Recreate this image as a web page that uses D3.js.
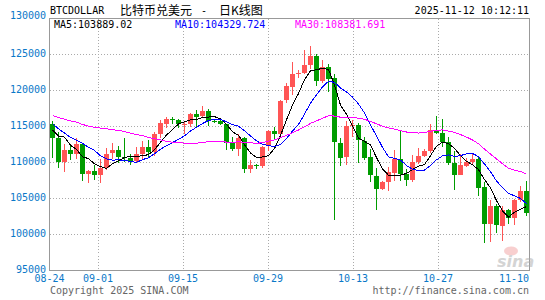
<!DOCTYPE html>
<html>
<head>
<meta charset="utf-8">
<script src="https://cdn.jsdelivr.net/npm/d3@7"></script>
<style>
body { margin: 0; background: #fff; }
text { font-family: "DejaVu Sans Mono", monospace; font-size: 10px; }
</style>
</head>
<body>
<svg id="chart" width="545" height="300"></svg>
<script>
// daily candles, 2025-08-24 .. 2025-11-11
const firstDay = "2025-08-24";
const openP  = [115370,113460,110100,111800,111200,112550,108350,108800,108250,109250,
                111250,111700,110700,110600,110150,111150,112100,111450,113950,115450,
                116100,115950,115350,115400,116800,116450,117150,115750,115700,115300,
                112700,111850,113400,109050,109650,109600,112200,114350,113950,118600,
                120600,122350,122450,123500,124800,121350,123300,121700,112750,110700,
                115050,115200,113050,110700,108150,106350,107300,108650,110550,108400,
                107500,110050,110950,111650,114550,114100,112900,109950,108250,109600,
                110100,110550,106550,101350,103900,101200,103400,102250,104750,106000];
const highP  = [115700,114200,112600,112600,113450,112700,108900,109600,110550,112000,
                112700,112300,113400,111200,112100,113000,113150,114300,115900,116300,
                116350,116100,115800,116850,117300,117900,117500,116100,115900,115400,
                113500,114000,113500,110300,109800,112300,114450,115000,118650,121000,
                123950,122900,125600,126250,125100,124300,123750,122300,113400,115700,
                115900,115450,113600,111900,109200,107500,109400,111700,114450,109100,
                111100,112000,111900,115400,116400,116100,113600,111600,111200,110600,
                111200,110700,107300,104800,104200,104000,103500,105000,106700,107500];
const lowP   = [110650,109300,108650,110400,110500,107500,107200,107600,107100,108900,
                110550,109900,110100,109700,110000,110550,110600,110900,113400,114800,
                115300,114800,113900,114900,115000,116200,115100,115450,115150,111700,
                111650,110950,108600,108600,109100,109300,111600,113100,113800,118300,
                119350,121700,122300,123000,120600,121100,119800,102000,109500,109600,
                113550,109900,110300,107300,103400,106200,106100,107450,107450,106700,
                107300,109800,110800,111300,113950,112200,109700,106150,108200,109400,
                109800,105300,98850,98900,100200,99100,101500,101300,104500,102600];
const closeP = [113460,110100,111800,111200,112550,108350,108800,108250,109250,111250,
                111700,110700,110600,110150,111150,112100,111450,113950,115450,116100,
                115950,115350,115400,116800,116450,117150,115750,115700,115300,112700,
                111850,113400,109050,109600,109600,112200,114350,113950,118600,120600,
                122350,122450,123500,124800,121350,123300,121700,112750,110700,115050,
                115200,113050,110700,108150,106350,107300,108650,110550,108400,107500,
                110050,110950,111650,114550,114100,112900,109950,108250,109600,110100,
                110550,106550,101350,103900,101200,103400,102250,104750,106000,103000];
// closes 2025-07-26 .. 2025-08-23, only used to start the moving averages
const priorClose = [117600,119450,118000,117900,117800,115750,113300,112550,114200,115050,
                    114100,115000,117500,116700,116500,119300,118700,120200,123300,118400,
                    117400,117500,117450,116250,112900,114300,112450,116900,115400];

const yTicks = [95000,100000,105000,110000,115000,120000,125000,130000];
const xTickDays = ["2025-08-24","2025-09-01","2025-09-15","2025-09-29","2025-10-13","2025-10-27","2025-11-10"];
const maPeriods = [5,10,30];
const maLabels = ["MA5:103889.02","MA10:104329.724","MA30:108381.691"];
const maColors = ["#000000","#0000ff","#ff00ff"];
const upColor = "#ff5555", downColor = "#009c00";

const parse = d3.utcParse("%Y-%m-%d");
const fmtTick = d3.utcFormat("%m-%d");
const days = d3.utcDay.range(parse(firstDay), d3.utcDay.offset(parse(firstDay), closeP.length));
const bars = days.map((d, i) => ({date: d, o: openP[i], h: highP[i], l: lowP[i], c: closeP[i]}));

const svg = d3.select("#chart");
const padL = 50, padR = 530, padT = 18.5, padB = 270.5;

const x = d3.scaleBand().domain(d3.range(bars.length)).range([padL, padR]);
const xt = d3.scaleUtc().domain([days[0], days[days.length - 1]]).range([padL, padR - 0.5]);
const y = d3.scaleLinear().domain([95000, 130000]).range([padB, padT]);

// grid
const grid = svg.append("g").attr("shape-rendering", "crispEdges")
  .attr("stroke", "#aaa").attr("stroke-dasharray", "1,2");
grid.selectAll(".hy").data(yTicks.slice(1, -1)).enter().append("line")
  .attr("x1", padL).attr("x2", padR - 1)
  .attr("y1", d => y(d)).attr("y2", d => y(d));
grid.selectAll(".vx").data(xTickDays.slice(1, -1)).enter().append("line")
  .attr("x1", d => Math.floor(xt(parse(d))) + 0.5).attr("x2", d => Math.floor(xt(parse(d))) + 0.5)
  .attr("y1", padT).attr("y2", padB);

// frame
svg.append("rect").attr("x", padL - 0.5).attr("y", padT).attr("width", padR - padL).attr("height", padB - padT)
  .attr("fill", "none").attr("stroke", "#999").attr("shape-rendering", "crispEdges");

// watermark
const wm = svg.append("g").attr("opacity", 0.5);
wm.append("ellipse").attr("cx", 511).attr("cy", 251).attr("rx", 7).attr("ry", 4.5).attr("fill", "#f2a0a0");
wm.append("text").attr("x", 497).attr("y", 267).style("font-family", "DejaVu Sans").style("font-size", "16px")
  .style("font-weight", "bold").style("font-style", "italic").attr("fill", "#aaa").text("sina");

// candles
const cg = svg.append("g").attr("shape-rendering", "crispEdges");
const candle = cg.selectAll("g").data(bars).enter().append("g")
  .attr("fill", d => d.c >= d.o ? upColor : downColor)
  .attr("stroke", d => d.c >= d.o ? upColor : downColor);
candle.append("line")
  .attr("x1", (d, i) => x(i) + 2.5).attr("x2", (d, i) => x(i) + 2.5)
  .attr("y1", d => y(d.h)).attr("y2", d => y(d.l));
candle.append("rect")
  .attr("stroke", "none")
  .attr("x", (d, i) => x(i)).attr("width", x.bandwidth() - 1)
  .attr("y", d => Math.round(y(Math.max(d.o, d.c))))
  .attr("height", d => Math.max(1, Math.round(Math.abs(y(d.o) - y(d.c)))));

// moving averages
const allClose = priorClose.concat(closeP);
maPeriods.forEach((p, k) => {
  const pts = closeP.map((c, i) => {
    const g = i + priorClose.length;
    return [x(i) + 2.5, y(d3.mean(allClose.slice(g - p + 1, g + 1)))];
  });
  svg.append("path").attr("d", d3.line()(pts)).attr("fill", "none")
    .attr("stroke", maColors[k]).attr("stroke-width", 1).attr("shape-rendering", "crispEdges");
});

// y axis labels
svg.selectAll(".yl").data(yTicks).enter().append("text")
  .attr("x", 46).attr("y", d => d === 130000 ? 19 : y(d) + 2.5)
  .attr("text-anchor", "end").attr("fill", "#0a78c8").text(d => d);

// x axis labels
svg.selectAll(".xl").data(xTickDays).enter().append("text")
  .attr("x", d => Math.min(xt(parse(d)) - 0.5, 529 - 15)).attr("y", 282)
  .attr("text-anchor", "middle").attr("fill", "#0a78c8").text(d => fmtTick(parse(d)));

// titles
svg.append("text").attr("x", 50).attr("y", 14).attr("fill", "#000").text("BTCDOLLAR");
svg.append("text").attr("x", 120).attr("y", 15).attr("fill", "#000")
  .style("font-family", "'Noto Sans CJK SC'").style("font-size", "12px").text("比特币兑美元");
svg.append("text").attr("x", 201).attr("y", 14).attr("fill", "#000").text("-");
svg.append("text").attr("x", 219).attr("y", 15).attr("fill", "#000")
  .style("font-family", "'Noto Sans CJK SC'").style("font-size", "12px").text("日K线图");
svg.append("text").attr("x", 529).attr("y", 14).attr("text-anchor", "end").attr("fill", "#000")
  .text("2025-11-12 10:12:11");

const legendX = [54, 175, 295];
svg.selectAll(".ma").data(maLabels).enter().append("text")
  .attr("x", (d, i) => legendX[i]).attr("y", 28)
  .attr("fill", (d, i) => maColors[i]).text(d => d);

svg.append("text").attr("x", 50).attr("y", 294).attr("fill", "#666").text("Copyright 2025 SINA.COM");
svg.append("text").attr("x", 529).attr("y", 294).attr("text-anchor", "end").attr("fill", "#666")
  .text("http://finance.sina.com.cn");
</script>
</body>
</html>
